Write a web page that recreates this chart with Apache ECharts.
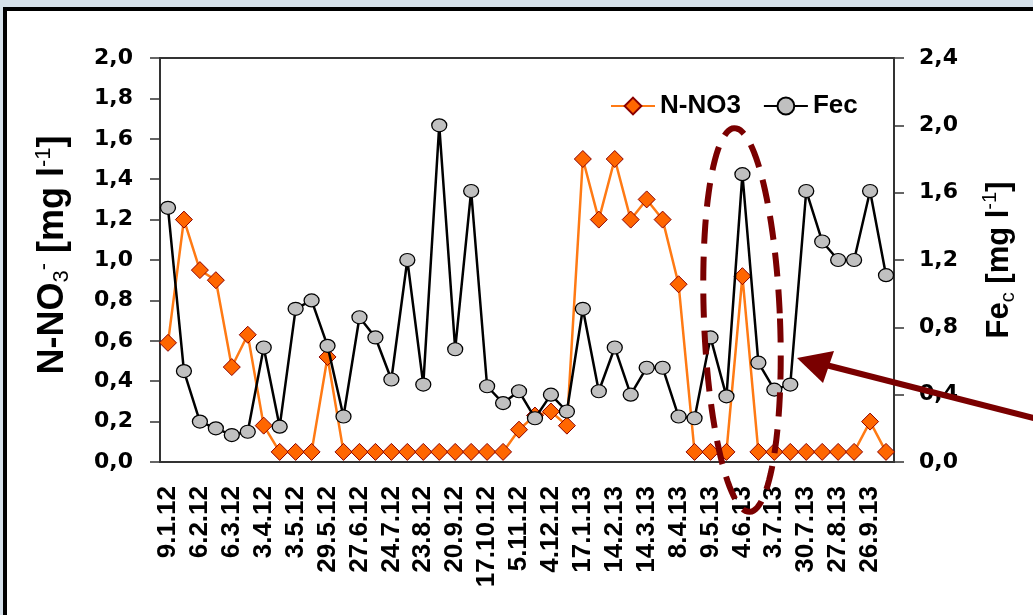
<!DOCTYPE html>
<html>
<head>
<meta charset="utf-8">
<script src="https://cdn.jsdelivr.net/npm/echarts@6/dist/echarts.min.js"></script>
<style>
  html, body { margin: 0; padding: 0; width: 1033px; height: 615px; overflow: hidden; background: #d6e1ea; }
  #frame { position: absolute; left: 3px; top: 7px; width: 1100px; height: 700px; background: #fff; border-left: 4px solid #000; border-top: 4px solid #000; }
  #chart { position: absolute; left: 0; top: 0; width: 1033px; height: 615px; }
</style>
</head>
<body>
<div id="frame"></div>
<div id="chart"></div>
<script>
// Visible date labels (every second sampling date is labelled)
const dateLabels = ['9.1.12','6.2.12','6.3.12','3.4.12','3.5.12','29.5.12','27.6.12','24.7.12','23.8.12','20.9.12','17.10.12','5.11.12','4.12.12','17.1.13','14.2.13','14.3.13','8.4.13','9.5.13','4.6.13','3.7.13','30.7.13','27.8.13','26.9.13'];
// N-NO3 [mg/l], left axis
const nno3 = [0.59,1.20,0.95,0.90,0.47,0.63,0.18,0.05,0.05,0.05,0.52,0.05,0.05,0.05,0.05,0.05,0.05,0.05,0.05,0.05,0.05,0.05,0.16,0.23,0.25,0.18,1.50,1.20,1.50,1.20,1.30,1.20,0.88,0.05,0.05,0.05,0.92,0.05,0.05,0.05,0.05,0.05,0.05,0.05,0.20,0.05];
// Fec [mg/l], right axis
const fec = [1.51,0.54,0.24,0.20,0.16,0.18,0.68,0.21,0.91,0.96,0.69,0.27,0.86,0.74,0.49,1.20,0.46,2.00,0.67,1.61,0.45,0.35,0.42,0.26,0.40,0.30,0.91,0.42,0.68,0.40,0.56,0.56,0.27,0.26,0.74,0.39,1.71,0.59,0.43,0.46,1.61,1.31,1.20,1.20,1.61,1.11];

const categories = [];
for (let i = 0; i < nno3.length; i++) {
  categories.push(i % 2 === 0 ? dateLabels[i / 2] : '');
}

const FONT = 'Liberation Sans, Arial, sans-serif';
const WIDE = 'DejaVu Sans, Liberation Sans, sans-serif';
const fmt = v => v.toFixed(1).replace('.', ',');

// annotation: dashed ellipse (not data)
const ellPts = [];
const ecx = 742, ecy = 320, erx = 38, ery = 192, tilt = -0.04;
for (let k = 0; k <= 120; k++) {
  const t = k / 120 * Math.PI * 2;
  const ex = erx * Math.cos(t), ey = ery * Math.sin(t);
  ellPts.push([ecx + ex * Math.cos(tilt) - ey * Math.sin(tilt), ecy + ex * Math.sin(tilt) + ey * Math.cos(tilt)]);
}

function titleRich(size) {
  return {
    sub: { fontFamily: FONT, fontWeight: 'normal', fontSize: size, verticalAlign: 'bottom', fill: '#000' },
    sup: { fontFamily: FONT, fontWeight: 'normal', fontSize: size, verticalAlign: 'top', fill: '#000' }
  };
}

const chart = echarts.init(document.getElementById('chart'));
chart.setOption({
  backgroundColor: 'transparent',
  animation: false,
  textStyle: { fontFamily: FONT },
  grid: { left: 160, right: 139, top: 58, bottom: 153, show: true, borderColor: '#333', borderWidth: 2, backgroundColor: 'transparent' },
  legend: {
    left: 605, top: 88, itemWidth: 44, itemHeight: 21, itemGap: 22,
    textStyle: { fontFamily: FONT, fontWeight: 'bold', fontSize: 26, color: '#000' },
    data: ['N-NO3', 'Fec']
  },
  xAxis: {
    type: 'category', data: categories, boundaryGap: true,
    axisLine: { lineStyle: { color: '#333', width: 2 } },
    axisTick: { interval: 0, length: 9, lineStyle: { color: '#333', width: 1.5 } },
    axisLabel: { interval: 1, rotate: 90, margin: 24, fontFamily: FONT, fontWeight: 'bold', fontSize: 26, color: '#000' },
    splitLine: { show: false }
  },
  yAxis: [
    {
      type: 'value', min: 0, max: 2, interval: 0.2, position: 'left',
      axisLine: { show: true, lineStyle: { color: '#333', width: 2 } },
      axisTick: { show: true, length: 10, lineStyle: { color: '#333', width: 1.5 } },
      axisLabel: { formatter: fmt, margin: 27, fontFamily: WIDE, fontWeight: 'bold', fontSize: 22, color: '#000' },
      splitLine: { show: false }
    },
    {
      type: 'value', min: 0, max: 2.4, interval: 0.4, position: 'right',
      axisLine: { show: true, lineStyle: { color: '#333', width: 2 } },
      axisTick: { show: true, length: 10, lineStyle: { color: '#333', width: 1.5 } },
      axisLabel: { formatter: fmt, margin: 25, fontFamily: WIDE, fontWeight: 'bold', fontSize: 22, color: '#000' },
      splitLine: { show: false }
    }
  ],
  series: [
    {
      name: 'N-NO3', type: 'line', yAxisIndex: 0, data: nno3,
      symbol: 'diamond', symbolSize: 17, showAllSymbol: true,
      lineStyle: { color: '#ff7a14', width: 2.5 },
      itemStyle: { color: '#ff6600', borderColor: '#8b0000', borderWidth: 1 },
      z: 3
    },
    {
      name: 'Fec', type: 'line', yAxisIndex: 1, data: fec,
      symbol: 'circle', symbolSize: [15, 13], showAllSymbol: true,
      lineStyle: { color: '#000', width: 2.5 },
      itemStyle: { color: '#c0c0c0', borderColor: '#000', borderWidth: 1.2 },
      z: 4
    }
  ],
  graphic: [
    {
      type: 'text', x: 53, y: 255, rotation: Math.PI / 2,
      style: {
        text: 'N-NO{sub|3}{sup|-} [mg l{sup|-1}]',
        fontFamily: FONT, fontWeight: 'bold', fontSize: 36, fill: '#000',
        align: 'center', verticalAlign: 'middle', lineHeight: 40,
        rich: titleRich(22)
      }
    },
    {
      type: 'text', x: 999, y: 260, rotation: Math.PI / 2,
      style: {
        text: 'Fe{sub|c} [mg l{sup|-1}]',
        fontFamily: FONT, fontWeight: 'bold', fontSize: 31, fill: '#000',
        align: 'center', verticalAlign: 'middle', lineHeight: 38,
        rich: titleRich(20)
      }
    },
    {
      type: 'polyline', z: 100,
      shape: { points: ellPts },
      style: { stroke: '#7a0000', lineWidth: 6, fill: null, lineDash: [24, 13] }
    },
    {
      type: 'line', z: 100,
      shape: { x1: 826, y1: 365, x2: 1045, y2: 421 },
      style: { stroke: '#7a0000', lineWidth: 6 }
    },
    {
      type: 'polygon', z: 100,
      shape: { points: [[797, 358], [823, 383], [834, 351]] },
      style: { fill: '#7a0000' }
    }
  ]
});
</script>
</body>
</html>
